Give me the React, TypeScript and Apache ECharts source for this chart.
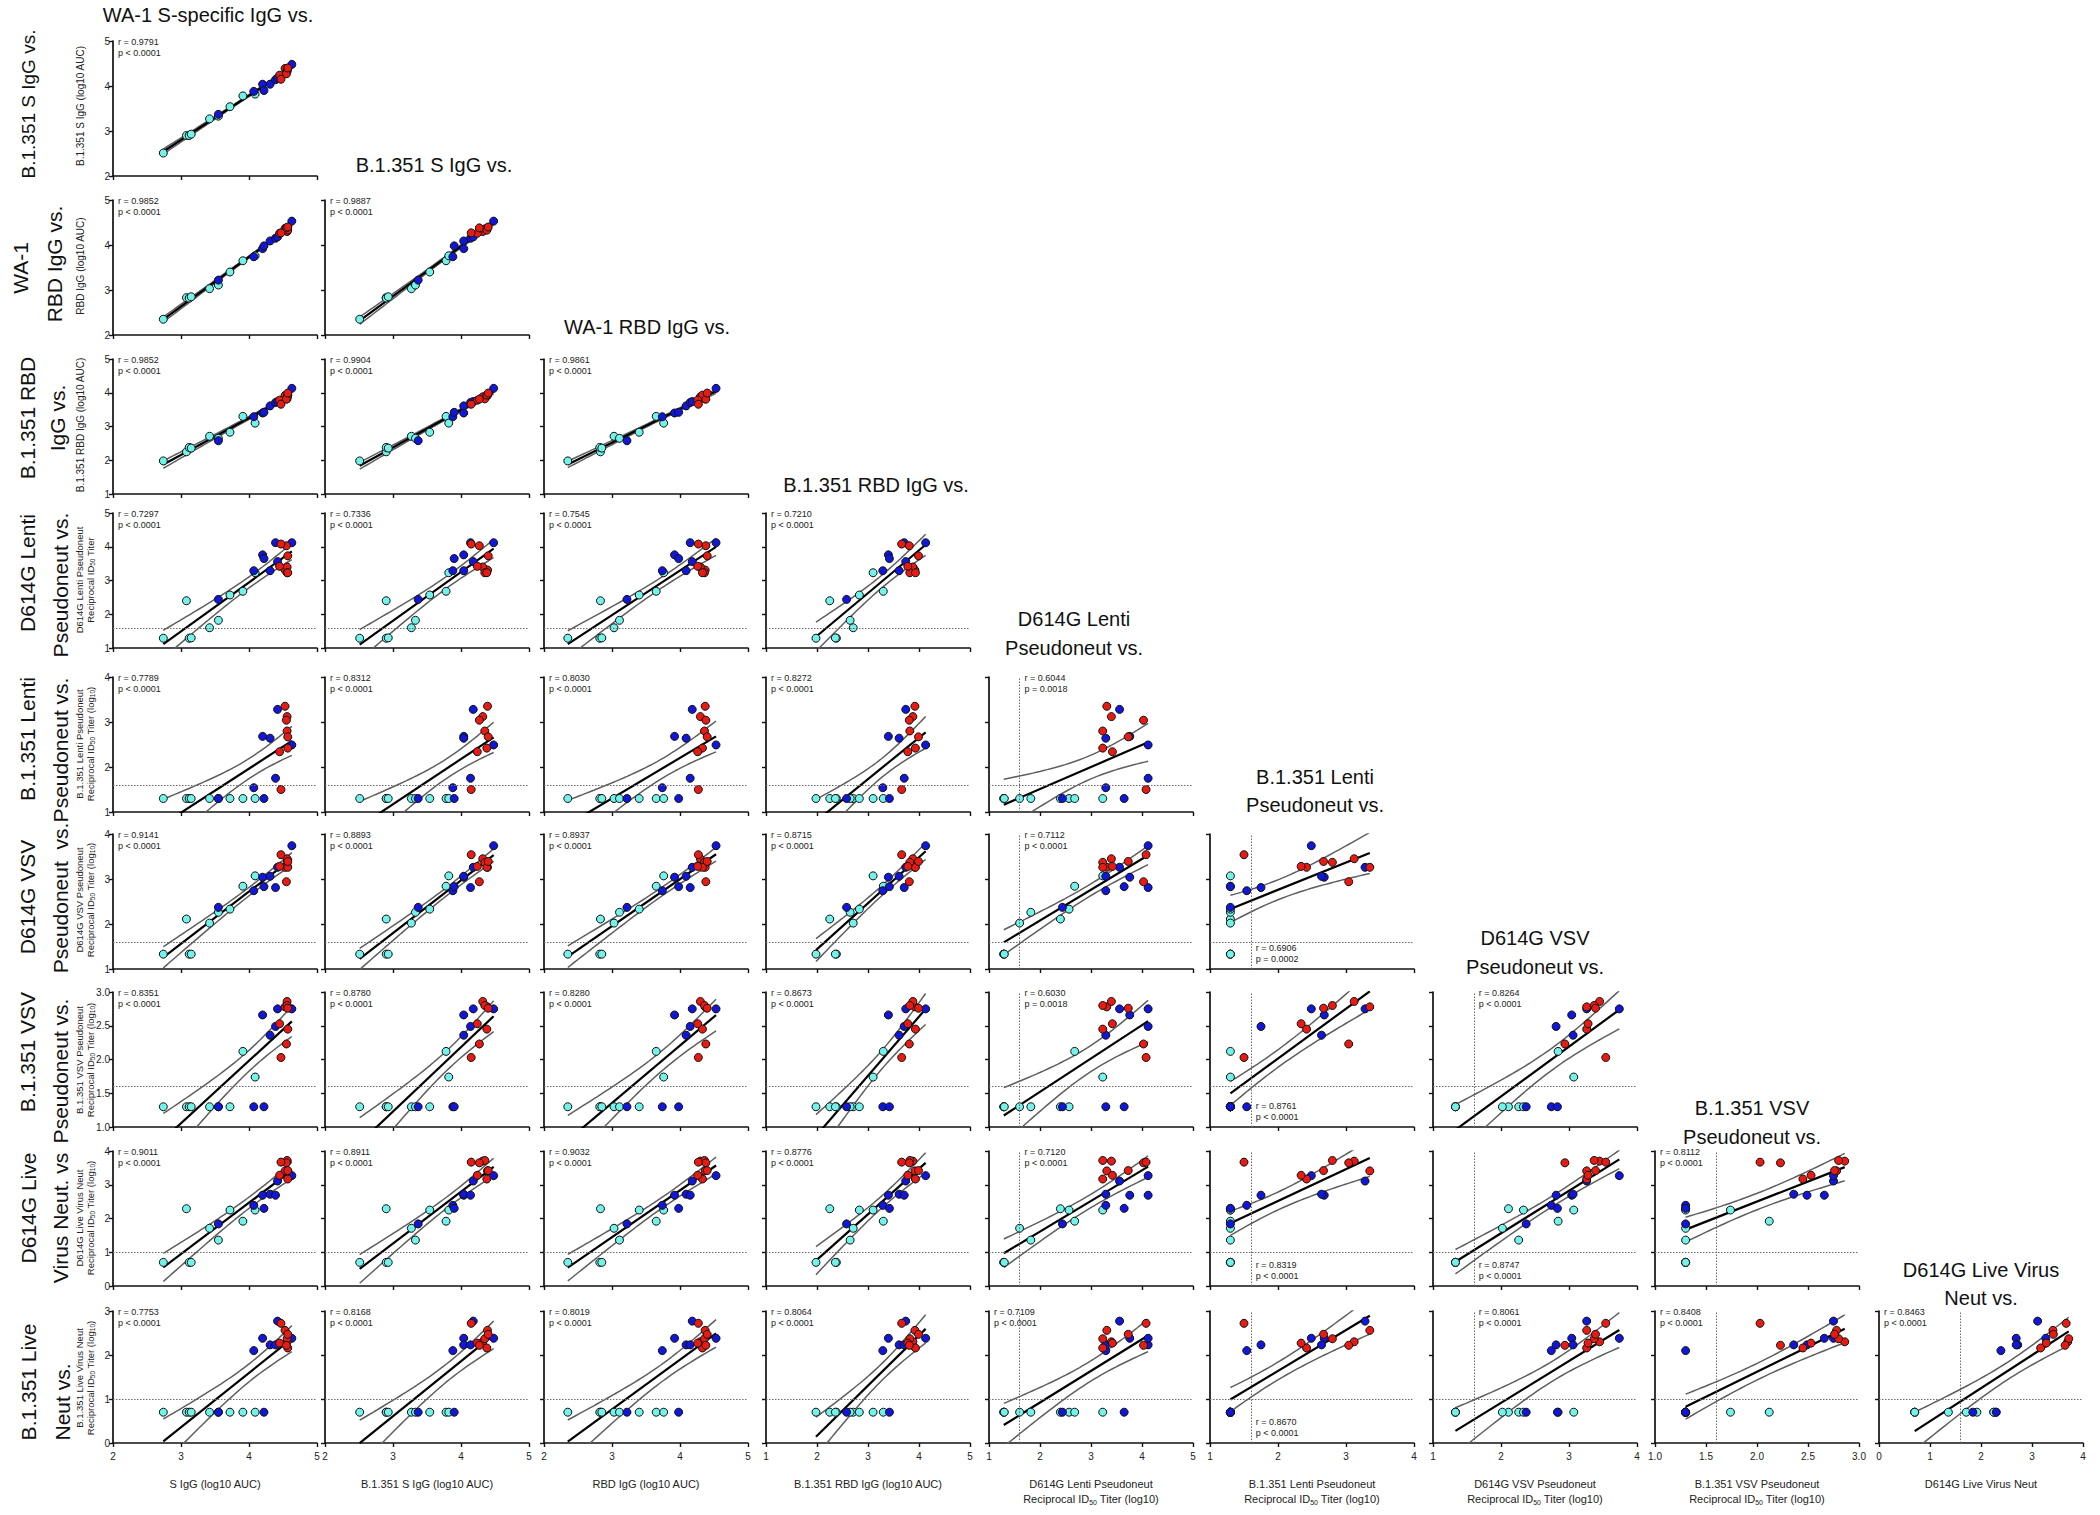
import React, { useEffect, useRef } from "react";
import * as echarts from "echarts";

// ---------- DATA (25 subjects: 9 cyan, 8 blue, 8 red) ----------
const groups = [
  "c", "c", "c", "c", "c", "c", "c", "c", "c",
  "b", "b", "b", "b", "b", "b", "b", "b",
  "r", "r", "r", "r", "r", "r", "r", "r",
];
// WA-1 S IgG (log10 AUC)
const sIgG = [2.74, 3.08, 3.12, 3.15, 3.42, 3.55, 3.72, 3.91, 4.09, 3.55, 4.07, 4.2, 4.22, 4.31, 4.39, 4.42, 4.63, 4.53, 4.56, 4.56, 4.57, 4.45, 4.55, 4.47, 4.57];
// B.1.351 S IgG (log10 AUC)
const b1351SIgG = [2.51, 2.9, 2.9, 2.93, 3.27, 3.33, 3.54, 3.78, 3.82, 3.37, 3.88, 4.04, 3.9, 4.04, 4.14, 4.18, 4.48, 4.39, 4.32, 4.35, 4.38, 4.24, 4.27, 4.15, 4.4];
// WA-1 RBD IgG (log10 AUC)
const rbdIgG = [2.35, 2.83, 2.82, 2.85, 3.03, 3.11, 3.4, 3.65, 3.76, 3.22, 3.74, 3.92, 3.98, 4.09, 4.15, 4.18, 4.53, 4.37, 4.3, 4.36, 4.33, 4.26, 4.38, 4.27, 4.4];
// B.1.351 RBD IgG (log10 AUC)
const b1351RbdIgG = [1.98, 2.25, 2.38, 2.36, 2.71, 2.65, 2.83, 3.3, 3.1, 2.58, 3.29, 3.4, 3.42, 3.61, 3.71, 3.74, 4.13, 3.92, 3.88, 3.82, 3.93, 3.78, 3.81, 3.66, 3.99];
// D614G Lenti pseudoneut (log10 ID50)
const d614gLenti = [1.29, 2.4, 1.29, 1.3, 1.6, 1.82, 2.57, 2.68, 3.23, 2.44, 3.29, 3.76, 3.65, 3.29, 4.12, 3.56, 4.12, 3.31, 3.4, 3.23, 3.23, 3.42, 4.03, 4.08, 3.73];
// B.1.351 Lenti pseudoneut
const b1351Lenti = [1.3, 1.3, 1.3, 1.3, 1.3, 1.3, 1.3, 1.3, 1.3, 1.3, 1.54, 2.68, 1.3, 2.64, 1.75, 3.28, 2.49, 3.35, 3.12, 2.8, 2.42, 2.34, 3.04, 1.5, 2.67];
// D614G VSV pseudoneut
const d614gVsv = [1.33, 2.11, 1.33, 1.33, 2.02, 2.26, 2.33, 2.84, 3.07, 2.37, 2.74, 3.04, 2.83, 3.06, 2.81, 3.26, 3.74, 3.26, 3.45, 3.37, 3.26, 3.28, 2.94, 3.54, 3.39];
// B.1.351 VSV pseudoneut
const b1351Vsv = [1.3, 1.3, 1.3, 1.3, 1.3, 1.3, 1.3, 2.12, 1.74, 1.3, 1.3, 2.66, 1.3, 2.36, 2.49, 2.75, 2.75, 2.78, 2.86, 2.8, 2.45, 2.53, 2.23, 2.03, 2.76];
// D614G live virus neut
const d614gLive = [0.7, 2.29, 0.7, 0.7, 1.71, 1.36, 2.25, 1.92, 2.25, 1.84, 2.39, 2.69, 2.3, 2.72, 2.69, 3.11, 3.27, 3.41, 3.7, 3.72, 3.17, 3.28, 3.65, 3.67, 3.42];
// B.1.351 live virus neut
const b1351Live = [0.7, 0.7, 0.7, 0.7, 0.7, 0.7, 0.7, 0.7, 0.7, 0.7, 2.1, 2.38, 0.7, 2.23, 2.23, 2.77, 2.38, 2.56, 2.3, 2.37, 2.16, 2.27, 2.22, 2.72, 2.47];

const variables = [sIgG, b1351SIgG, rbdIgG, b1351RbdIgG, d614gLenti, b1351Lenti, d614gVsv, b1351Vsv, d614gLive, b1351Live];

// axis ticks per variable
const axisMin = [2, 2, 2, 1, 1, 1, 1, 1, 0, 0];
const axisMax = [5, 5, 5, 5, 5, 4, 4, 3, 4, 3];
const axisStep = [1, 1, 1, 1, 1, 1, 1, 0.5, 1, 1];
const axisDecimals = [0, 0, 0, 0, 0, 0, 0, 1, 0, 0];
// limits of detection (dotted lines)
const lodAsY: (number | null)[] = [null, null, null, null, 1.6, 1.6, 1.6, 1.6, 1.0, 1.0];
const lodAsX: (number | null)[] = [null, null, null, null, 1.6, 1.6, 1.6, 1.6, 1.6, null];

// Pearson r / p labels per panel [row][col]
const rLabels = [
  ["0.9791"],
  ["0.9852", "0.9887"],
  ["0.9852", "0.9904", "0.9861"],
  ["0.7297", "0.7336", "0.7545", "0.7210"],
  ["0.7789", "0.8312", "0.8030", "0.8272", "0.6044"],
  ["0.9141", "0.8893", "0.8937", "0.8715", "0.7112", "0.6906"],
  ["0.8351", "0.8780", "0.8280", "0.8673", "0.6030", "0.8761", "0.8264"],
  ["0.9011", "0.8911", "0.9032", "0.8776", "0.7120", "0.8319", "0.8747", "0.8112"],
  ["0.7753", "0.8168", "0.8019", "0.8064", "0.7109", "0.8670", "0.8061", "0.8408", "0.8463"],
];
const P4 = "p < 0.0001";
const pLabels = [
  [P4],
  [P4, P4],
  [P4, P4, P4],
  [P4, P4, P4, P4],
  [P4, P4, P4, P4, "p = 0.0018"],
  [P4, P4, P4, P4, P4, "p = 0.0002"],
  [P4, P4, P4, P4, "p = 0.0018", P4, P4],
  [P4, P4, P4, P4, P4, P4, P4, P4],
  [P4, P4, P4, P4, P4, P4, P4, P4, P4],
];
// placement of r/p text: t = top-left, tl = top right of LOD line, bl = bottom right of LOD line
const statPlace = [
  ["t"],
  ["t", "t"],
  ["t", "t", "t"],
  ["t", "t", "t", "t"],
  ["t", "t", "t", "t", "tl"],
  ["t", "t", "t", "t", "tl", "bl"],
  ["t", "t", "t", "t", "tl", "bl", "tl"],
  ["t", "t", "t", "t", "tl", "bl", "bl", "t"],
  ["t", "t", "t", "t", "t", "bl", "tl", "t", "t"],
];

const headerLines = [
  ["WA-1 S-specific IgG vs."],
  ["B.1.351 S IgG vs."],
  ["WA-1 RBD IgG vs."],
  ["B.1.351 RBD IgG vs."],
  ["D614G Lenti", "Pseudoneut vs."],
  ["B.1.351 Lenti", "Pseudoneut vs."],
  ["D614G VSV", "Pseudoneut vs."],
  ["B.1.351 VSV", "Pseudoneut vs."],
  ["D614G Live Virus", "Neut vs."],
];
const rowLabelLines = [
  ["B.1.351 S IgG vs."],
  ["WA-1", "RBD IgG vs."],
  ["B.1.351 RBD", "IgG vs."],
  ["D614G Lenti", "Pseudoneut vs."],
  ["B.1.351 Lenti", "Pseudoneut vs."],
  ["D614G VSV", "Pseudoneut  vs."],
  ["B.1.351 VSV", "Pseudoneut vs."],
  ["D614G Live", "Virus Neut. vs"],
  ["B.1.351 Live", "Neut vs."],
];
const yAxisNames = [
  "B.1.351 S IgG (log10 AUC)",
  "RBD IgG (log10 AUC)",
  "B.1.351 RBD IgG (log10 AUC)",
  "D614G Lenti Pseudoneut\nReciprocal ID{s|50} Titer",
  "B.1.351 Lenti Pseudoneut\nReciprocal ID{s|50} Titer (log{s|10})",
  "D614G VSV Pseudoneut\nReciprocal ID{s|50} Titer (log{s|10})",
  "B.1.351 VSV Pseudoneut\nReciprocal ID{s|50} Titer (log{s|10})",
  "D614G Live Virus Neut\nReciprocal ID{s|50} Titer (log{s|10})",
  "B.1.351 Live Virus Neut\nReciprocal ID{s|50} Titer (log{s|10})",
];
const xAxisNames = [
  "S IgG (log10 AUC)",
  "B.1.351 S IgG (log10 AUC)",
  "RBD IgG (log10 AUC)",
  "B.1.351 RBD IgG (log10 AUC)",
  "D614G Lenti Pseudoneut\nReciprocal ID{s|50} Titer (log10)",
  "B.1.351 Lenti Pseudoneut\nReciprocal ID{s|50} Titer (log10)",
  "D614G VSV Pseudoneut\nReciprocal ID{s|50} Titer (log10)",
  "B.1.351 VSV Pseudoneut\nReciprocal ID{s|50} Titer (log10)",
  "D614G Live Virus Neut",
];

// ---------- LAYOUT / STYLE ----------
const COL_LEFT = [113, 325, 544, 766, 989, 1210, 1433, 1655, 1879];
const PLOT_W = 204;
const ROW_TOP = [41, 200, 359, 513, 677, 834, 992, 1151, 1311];
const ROW_H = [135, 135, 135, 135, 135, 135, 135, 135, 132];
const FONT = "'Liberation Sans', Arial, Helvetica, sans-serif";
const groupColor: Record<string, string> = { c: "#72F2E8", b: "#1216D6", r: "#E61C14" };

const HEADER_POS = [
  [[208, 15]],
  [[434, 165]],
  [[647, 327]],
  [[876, 485]],
  [[1074, 619], [1074, 648]],
  [[1315, 777], [1315, 805]],
  [[1535, 938], [1535, 967]],
  [[1752, 1108], [1752, 1137]],
  [[1981, 1270], [1981, 1298]],
];
const ROW_LABEL_POS = [
  [[28, 104]],
  [[20, 268], [54, 264]],
  [[27, 418], [57, 418]],
  [[27, 573], [60, 585]],
  [[27, 739], [60, 750]],
  [[27, 897], [60, 898]],
  [[27, 1052], [60, 1071]],
  [[28, 1208], [60, 1218]],
  [[28, 1382], [62, 1402]],
];
const Y_NAME_POS = [
  [80, 106], [80, 266], [80, 425], [85, 580], [85, 744], [85, 900], [85, 1060], [85, 1218], [85, 1378],
];

function fit(xs: number[], ys: number[]) {
  const n = xs.length;
  const mx = xs.reduce((a, b) => a + b, 0) / n;
  const my = ys.reduce((a, b) => a + b, 0) / n;
  let sxx = 0, sxy = 0;
  for (let i = 0; i < n; i++) {
    sxx += (xs[i] - mx) ** 2;
    sxy += (xs[i] - mx) * (ys[i] - my);
  }
  const b = sxy / sxx;
  const a = my - b * mx;
  let sse = 0;
  for (let i = 0; i < n; i++) sse += (ys[i] - (a + b * xs[i])) ** 2;
  const s = Math.sqrt(sse / (n - 2));
  return { a, b, s, mx, sxx, n };
}
const T975 = 2.069; // t(0.975, df = 23)

function buildOption() {
  const grid: any[] = [];
  const xAxis: any[] = [];
  const yAxis: any[] = [];
  const series: any[] = [];
  const elements: any[] = [];
  let k = 0;
  const toPx = (v: number, lo: number, hi: number, start: number, len: number) =>
    start + ((v - lo) / (hi - lo)) * len;

  for (let r = 0; r < 9; r++) {
    const yv = r + 1;
    for (let c = 0; c <= r; c++) {
      const xv = c;
      const left = COL_LEFT[c];
      const top = ROW_TOP[r];
      const h = ROW_H[r];
      grid.push({ left, top, width: PLOT_W, height: h });
      const axisCommon = {
        type: "value",
        gridIndex: k,
        splitLine: { show: false },
        axisLine: { show: true, onZero: false, lineStyle: { color: "#111", width: 1.7 } },
        axisTick: { show: true, inside: false, length: 4, lineStyle: { color: "#111", width: 1.4 } },
      };
      xAxis.push({
        ...axisCommon,
        min: axisMin[xv],
        max: axisMax[xv],
        interval: axisStep[xv],
        axisLabel: {
          show: r === 8,
          fontSize: 10,
          color: "#222",
          fontFamily: FONT,
          margin: 8,
          showMinLabel: true,
          showMaxLabel: true,
          formatter: (v: number) => v.toFixed(axisDecimals[xv]),
        },
      });
      yAxis.push({
        ...axisCommon,
        min: axisMin[yv],
        max: axisMax[yv],
        interval: axisStep[yv],
        axisLabel: {
          show: c === 0,
          fontSize: 10,
          color: "#222",
          fontFamily: FONT,
          margin: 3,
          showMinLabel: true,
          showMaxLabel: true,
          formatter: (v: number) => v.toFixed(axisDecimals[yv]),
        },
      });

      const xs = variables[xv];
      const ys = variables[yv];
      const f = fit(xs, ys);
      const xmin = Math.min(...xs);
      const xmax = Math.max(...xs);
      const steps = 40;
      const lineData: number[][] = [];
      const upper: number[][] = [];
      const lower: number[][] = [];
      for (let i = 0; i <= steps; i++) {
        const x = xmin + ((xmax - xmin) * i) / steps;
        const yh = f.a + f.b * x;
        const se = f.s * Math.sqrt(1 / f.n + (x - f.mx) ** 2 / f.sxx);
        if (i === 0 || i === steps) lineData.push([x, yh]);
        upper.push([x, yh + T975 * se]);
        lower.push([x, yh - T975 * se]);
      }
      const lineBase = {
        type: "line",
        xAxisIndex: k,
        yAxisIndex: k,
        showSymbol: false,
        symbol: "none",
        silent: true,
        clip: true,
        animation: false,
      };
      series.push({ ...lineBase, data: upper, z: 2, lineStyle: { color: "#5e5e5e", width: 1.5 } });
      series.push({ ...lineBase, data: lower, z: 2, lineStyle: { color: "#5e5e5e", width: 1.5 } });
      series.push({ ...lineBase, data: lineData, z: 3, lineStyle: { color: "#000", width: 2.2 } });

      const markData: any[] = [];
      if (lodAsY[yv] != null) markData.push({ yAxis: lodAsY[yv] });
      if (lodAsX[xv] != null) markData.push({ xAxis: lodAsX[xv] });
      series.push({
        type: "scatter",
        xAxisIndex: k,
        yAxisIndex: k,
        symbol: "circle",
        symbolSize: 8,
        z: 4,
        silent: true,
        itemStyle: { borderColor: "#111", borderWidth: 1, opacity: 1 },
        data: xs.map((x, i) => ({ value: [x, ys[i]], itemStyle: { color: groupColor[groups[i]] } })),
        markLine: markData.length
          ? {
              silent: true,
              symbol: ["none", "none"],
              label: { show: false },
              animation: false,
              lineStyle: { color: "#6a6a6a", width: 1, type: [1.5, 1.5] },
              data: markData,
            }
          : undefined,
      });

      // r / p text
      const place = statPlace[r][c];
      const lodX = lodAsX[xv];
      let tx = left + 5;
      let ty = top - 5;
      if ((place === "tl" || place === "bl") && lodX != null) {
        tx = toPx(lodX, axisMin[xv], axisMax[xv], left, PLOT_W) + 5;
      }
      if (place === "bl") ty = top + h - 27;
      elements.push({
        type: "text",
        x: tx,
        y: ty,
        silent: true,
        style: {
          text: `r = ${rLabels[r][c]}\n${pLabels[r][c]}`,
          fontSize: 9,
          lineHeight: 11,
          fontFamily: FONT,
          fill: "#222",
          align: "left",
          verticalAlign: "top",
          textAlign: "left",
          textVerticalAlign: "top",
        },
      });
      k++;
    }
  }

  const bigText = (text: string, x: number, y: number, rotate: boolean, size: number) => ({
    type: "text",
    x,
    y,
    rotation: rotate ? Math.PI / 2 : 0,
    silent: true,
    style: {
      text,
      fontSize: size,
      fontFamily: FONT,
      fill: "#111",
      align: "center",
      verticalAlign: "middle",
      textAlign: "center",
      textVerticalAlign: "middle",
    },
  });
  headerLines.forEach((lines, i) =>
    lines.forEach((ln, j) => elements.push(bigText(ln, HEADER_POS[i][j][0], HEADER_POS[i][j][1], false, 20)))
  );
  rowLabelLines.forEach((lines, i) =>
    lines.forEach((ln, j) =>
      elements.push(bigText(ln, ROW_LABEL_POS[i][j][0], ROW_LABEL_POS[i][j][1], true, i === 0 ? 19 : 21))
    )
  );
  const rich = { s: { fontSize: 6.5, verticalAlign: "bottom", fontFamily: FONT, fill: "#222" } };
  yAxisNames.forEach((name, i) => {
    elements.push({
      type: "text",
      x: Y_NAME_POS[i][0],
      y: Y_NAME_POS[i][1],
      rotation: Math.PI / 2,
      silent: true,
      style: {
        text: name,
        rich,
        fontSize: i < 3 ? 10 : 9.5,
        lineHeight: 11,
        fontFamily: FONT,
        fill: "#222",
        align: "center",
        verticalAlign: "middle",
        textAlign: "center",
        textVerticalAlign: "middle",
      },
    });
  });
  xAxisNames.forEach((name, c) => {
    elements.push({
      type: "text",
      x: COL_LEFT[c] + PLOT_W / 2,
      y: ROW_TOP[8] + ROW_H[8] + 33,
      silent: true,
      style: {
        text: name,
        rich: { s: { fontSize: 7, verticalAlign: "bottom", fontFamily: FONT, fill: "#222" } },
        fontSize: 11,
        lineHeight: 15,
        fontFamily: FONT,
        fill: "#222",
        align: "center",
        verticalAlign: "top",
        textAlign: "center",
        textVerticalAlign: "top",
      },
    });
  });

  return {
    animation: false,
    backgroundColor: "#ffffff",
    grid,
    xAxis,
    yAxis,
    series,
    graphic: { elements },
  };
}

export default function App() {
  const ref = useRef<HTMLDivElement>(null);
  useEffect(() => {
    document.body.style.margin = "0";
    const chart = echarts.init(ref.current!, undefined, { renderer: "svg", width: 2100, height: 1515 });
    chart.setOption(buildOption() as any);
    return () => chart.dispose();
  }, []);
  return <div ref={ref} style={{ width: 2100, height: 1515, background: "#fff" }} />;
}
